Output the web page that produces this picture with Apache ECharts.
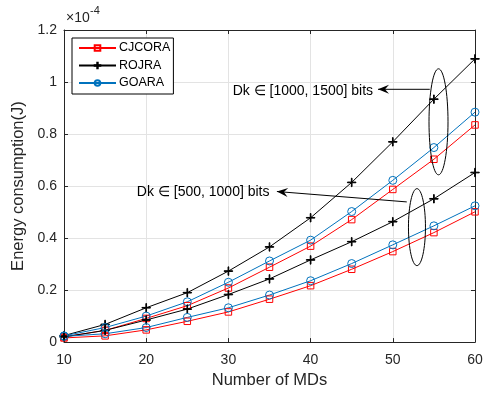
<!DOCTYPE html>
<html><head><meta charset="utf-8">
<script src="https://cdn.jsdelivr.net/npm/echarts@6/dist/echarts.min.js"></script>
<style>html,body{margin:0;padding:0;background:#fff}#c{width:486px;height:394px}</style>
</head><body><div id="c"></div>
<script>
// Number of MDs
const xValues = [10, 15, 20, 25, 30, 35, 40, 45, 50, 55, 60];
// Energy consumption in units of 1e-4 J
// Dk in [1000,1500] bits
const cjcoraHigh = [0.020, 0.045, 0.091, 0.140, 0.208, 0.288, 0.369, 0.471, 0.587, 0.703, 0.835];
const rojraHigh  = [0.025, 0.068, 0.132, 0.190, 0.273, 0.366, 0.478, 0.614, 0.770, 0.934, 1.089];
const goaraHigh  = [0.024, 0.056, 0.100, 0.155, 0.230, 0.312, 0.392, 0.502, 0.622, 0.748, 0.884];
// Dk in [500,1000] bits
const cjcoraLow  = [0.016, 0.024, 0.047, 0.080, 0.116, 0.165, 0.217, 0.280, 0.348, 0.421, 0.501];
const rojraLow   = [0.020, 0.045, 0.085, 0.127, 0.183, 0.243, 0.316, 0.386, 0.463, 0.551, 0.652];
const goaraLow   = [0.022, 0.032, 0.056, 0.095, 0.132, 0.181, 0.236, 0.302, 0.374, 0.447, 0.524];
const yTicks = [0, 0.2, 0.4, 0.6, 0.8, 1, 1.2];
const legendNames = ['CJCORA', 'ROJRA', 'GOARA'];
const labelHigh = 'Dk \u2208 [1000, 1500] bits';
const labelLow = 'Dk \u2208 [500, 1000] bits';

const FONT = 'Liberation Sans, Arial, Helvetica, sans-serif';
const RED = '#ff0000', BLACK = '#000000', BLUE = '#0072bd', AX = '#262626';
const PLUS = 'path://M-0.08,-1H0.08V-0.08H1V0.08H0.08V1H-0.08V0.08H-1V-0.08H-0.08Z';
const CLEAR = 'rgba(0,0,0,0)';

function pairs(vals){ return xValues.map((x,i)=>[x, vals[i]]); }
function mk(name, vals, color, symbol, size, fill){
  return {
    name: name, type: 'line', data: pairs(vals),
    symbol: symbol, symbolSize: size,
    lineStyle: {color: color, width: 1},
    itemStyle: {color: fill, borderColor: color, borderWidth: 1},
    emphasis: {disabled: true}, animation: false, z: 3
  };
}
const chart = echarts.init(document.getElementById('c'), null, {renderer: 'canvas'});
const axisCommon = {type: 'value', min: 10, max: 60, interval: 10};
const lineAx = {show: true, onZero: false, lineStyle: {color: AX, width: 1}};
const tickAx = {show: true, inside: true, length: 4, lineStyle: {color: AX}};
chart.setOption({
  animation: false,
  grid: {left: 64, right: 11, top: 30, bottom: 48},
  legend: {
    data: legendNames.map(n=>({name:n})),
    orient: 'vertical', left: 72, top: 38,
    itemWidth: 37, itemHeight: 7, itemGap: 3.5,
    padding: [3, 3, 4, 6],
    borderColor: '#000', borderWidth: 1, backgroundColor: '#fff',
    textStyle: {fontFamily: FONT, fontSize: 12.5, lineHeight: 14, color: '#000', padding: [0,0,0,-2]}
  },
  xAxis: [
    Object.assign({}, axisCommon, {
      position: 'bottom',
      name: 'Number of MDs', nameLocation: 'middle', nameGap: 28,
      nameTextStyle: {fontFamily: FONT, fontSize: 16.5, color: AX},
      axisLine: lineAx, axisTick: tickAx,
      axisLabel: {fontFamily: FONT, fontSize: 14, color: AX, margin: 11},
      splitLine: {show: true, lineStyle: {color: '#e3e3e3', width: 1}}
    }),
    Object.assign({}, axisCommon, {
      position: 'top', axisLine: lineAx, axisTick: tickAx,
      axisLabel: {show: false}, splitLine: {show: false}
    })
  ],
  yAxis: [
    {
      type: 'value', min: 0, max: 1.2, interval: 0.2, position: 'left',
      name: 'Energy consumption(J)', nameLocation: 'middle', nameGap: 24,
      nameTextStyle: {fontFamily: FONT, fontSize: 16.5, color: AX},
      axisLine: lineAx, axisTick: tickAx,
      axisLabel: {fontFamily: FONT, fontSize: 14, color: AX, margin: 7,
        formatter: v => { const t = yTicks.find(k => Math.abs(k - v) < 1e-9); return t === undefined ? '' : String(t); }},
      splitLine: {show: true, lineStyle: {color: '#e3e3e3', width: 1}}
    },
    {
      type: 'value', min: 0, max: 1.2, interval: 0.2, position: 'right',
      axisLine: lineAx, axisTick: tickAx,
      axisLabel: {show: false}, splitLine: {show: false}
    }
  ],
  series: [
    mk('CJCORA', cjcoraHigh, RED, 'rect', 6.5, CLEAR),
    mk('ROJRA', rojraHigh, BLACK, PLUS, 8.5, BLACK),
    mk('GOARA', goaraHigh, BLUE, 'circle', 8, CLEAR),
    mk('CJCORA', cjcoraLow, RED, 'rect', 6.5, CLEAR),
    mk('ROJRA', rojraLow, BLACK, PLUS, 8.5, BLACK),
    mk('GOARA', goaraLow, BLUE, 'circle', 8, CLEAR)
  ]
});

// Annotations in data coordinates
const annotations = [
  {text: labelHigh, textAt: [47.6, 0.966], from: [54.5, 0.972], to: [48.2, 0.972],
   ellipse: {c: [55.56, 0.847], rx: 9.5, ry: 53}},
  {text: labelLow, textAt: [35.0, 0.577], from: [51.7, 0.539], to: [35.9, 0.579],
   ellipse: {c: [52.94, 0.442], rx: 8.5, ry: 38.5}}
];
const P = p => chart.convertToPixel({xAxisIndex: 0, yAxisIndex: 0}, p);
const g = [];
annotations.forEach(a => {
  const c = P(a.ellipse.c);
  g.push({type: 'ellipse', shape: {cx: c[0], cy: c[1], rx: a.ellipse.rx, ry: a.ellipse.ry},
    style: {fill: null, stroke: '#000', lineWidth: 1}, z: 10});
  const f = P(a.from), t = P(a.to);
  g.push({type: 'line', shape: {x1: f[0], y1: f[1], x2: t[0], y2: t[1]},
    style: {stroke: '#000', lineWidth: 1}, z: 10});
  const dx = f[0]-t[0], dy = f[1]-t[1], L = Math.hypot(dx, dy);
  const ux = dx/L, uy = dy/L, nx = -uy, ny = ux;
  const len = 11, hw = 4.5, ind = 7;
  g.push({type: 'polygon', shape: {points: [
      [t[0], t[1]],
      [t[0]+ux*len+nx*hw, t[1]+uy*len+ny*hw],
      [t[0]+ux*ind, t[1]+uy*ind],
      [t[0]+ux*len-nx*hw, t[1]+uy*len-ny*hw]
    ]}, style: {fill: '#000'}, z: 11});
  const tp = P(a.textAt);
  g.push({type: 'text', x: tp[0], y: tp[1],
    style: {text: a.text, fontFamily: FONT, fontSize: 14, fill: '#000', align: 'right', verticalAlign: 'middle'}, z: 12});
});
const corner = P([10, 1.2]);
g.push({type: 'text', x: corner[0] + 2, y: corner[1] - 12,
  style: {text: '\u00d710', fontFamily: FONT, fontSize: 14, fill: AX, align: 'left', verticalAlign: 'middle'}, z: 12});
g.push({type: 'text', x: corner[0] + 26, y: corner[1] - 19,
  style: {text: '-4', fontFamily: FONT, fontSize: 11, fill: AX, align: 'left', verticalAlign: 'middle'}, z: 12});
chart.setOption({graphic: g});
</script></body></html>
